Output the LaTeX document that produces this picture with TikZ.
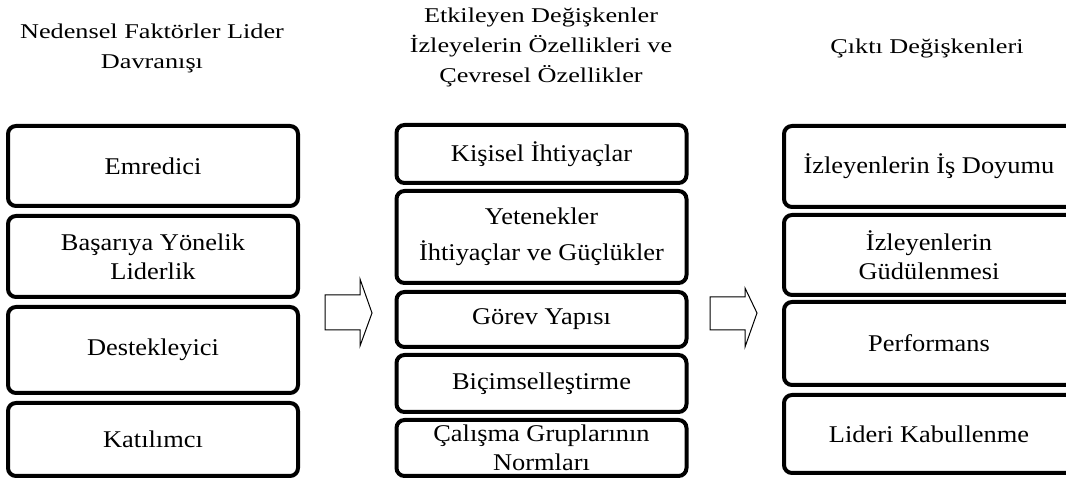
\documentclass[tikz,border=0pt]{standalone}
\usepackage{fontspec}
\setmainfont{Liberation Serif}[FakeStretch=1.25]
\newfontfamily\boxfont{Liberation Serif}[FakeStretch=1.1]
\usepackage{tikz}
\usetikzlibrary{positioning}
\tikzstyle{title} = [text centered, align=center, font=\fontsize{21}{30}\selectfont]
\tikzstyle{box} = [rectangle, rounded corners=8pt, draw=black, line width=4pt, minimum width=290pt, inner sep=0pt, text centered, align=center, font=\boxfont\fontsize{24}{29}\selectfont]
\tikzstyle{bigarrow} = [draw=black, line width=1pt, fill=white]

\begin{document}
\begin{tikzpicture}[x=1pt, y=1pt, node distance=90pt]
\useasboundingbox (0,0) rectangle (1066,478);

\node (tneden) [title] at (152,430) {Nedensel Faktörler Lider\\Davranışı};
\node (tetki) [title] at (541,431) {Etkileyen Değişkenler\\İzleyelerin Özellikleri ve\\Çevresel Özellikler};
\node (tcikti) [title] at (927,430) {Çıktı Değişkenleri};

\node (emr) [box, minimum height=80pt] at (153,312) {Emredici};
\node (bas) [box, minimum height=81pt, below of=emr, yshift=-0.5pt] {Başarıya Yönelik\\Liderlik};
\node (des) [box, minimum height=86pt, below of=bas, yshift=-3.5pt] {Destekleyici};
\node (kat) [box, minimum height=73pt, below of=des, yshift=0.5pt] {Katılımcı};

\node (kis) [box, minimum height=58pt] at (541.5,324) {Kişisel İhtiyaçlar};
\node (yet) [box, minimum height=92pt, below of=kis, yshift=7pt] {Yetenekler\\[7pt]İhtiyaçlar ve Güçlükler};
\node (gor) [box, minimum height=55pt, below of=yet, yshift=7.5pt] {Görev Yapısı};
\node (bic) [box, minimum height=57pt, below of=gor, yshift=26pt] {Biçimselleştirme};
\node (cal) [box, minimum height=56pt, below of=bic, yshift=25.5pt] {Çalışma Gruplarının\\Normları};

\node (doy) [box, minimum height=81pt] at (929,311.5) {İzleyenlerin İş Doyumu};
\node (gud) [box, minimum height=80pt, below of=doy, yshift=1.5pt] {İzleyenlerin\\Güdülenmesi};
\node (perf) [box, minimum height=83pt, below of=gud, yshift=1.5pt] {Performans};
\node (kab) [box, minimum height=78pt, below of=perf, yshift=-0.5pt] {Lideri Kabullenme};

% block arrows between the columns
\draw [bigarrow] (325,183) -- (360,183) -- (360,199) -- (372,165) -- (360,132) -- (360,148) -- (325,148) -- cycle;
\draw [bigarrow] (710,181) -- (745,181) -- (745,190) -- (757,165) -- (745,131) -- (745,148) -- (710,148) -- cycle;

\end{tikzpicture}
\end{document}
